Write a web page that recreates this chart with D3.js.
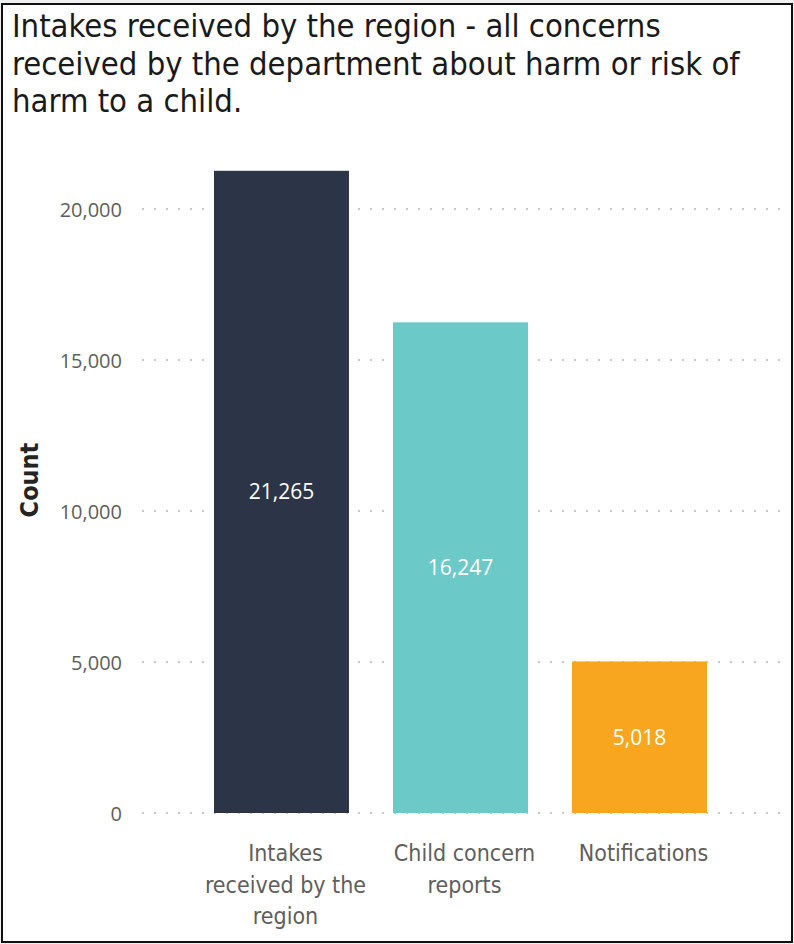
<!DOCTYPE html>
<html>
<head>
<meta charset="utf-8">
<script src="https://cdn.jsdelivr.net/npm/d3@7"></script>
<style>
  body { margin: 0; background: #f0f0f0; }
  svg { display: block; }
</style>
</head>
<body>
<div id="chart"></div>
<script>
// chart data
var categories = ["Intakes received by the region", "Child concern reports", "Notifications"];
var counts = [21265, 16247, 5018];
var barColors = ["#2c3548", "#6bc9c8", "#f8a61f"];
var yTicks = [0, 5000, 10000, 15000, 20000];
var titleLines = ["Intakes received by the region - all concerns",
                  "received by the department about harm or risk of",
                  "harm to a child."];

var W = 794, H = 944;
var condensed = "'DejaVu Sans Condensed', 'Liberation Sans Narrow', sans-serif";

var svg = d3.select("#chart").append("svg")
    .attr("width", W)
    .attr("height", H);

// white card with black frame
svg.append("rect")
    .attr("x", 2).attr("y", 4)
    .attr("width", W - 4).attr("height", H - 6)
    .attr("fill", "white")
    .attr("stroke", "#111")
    .attr("stroke-width", 2);

// title
svg.append("text")
    .attr("font-family", condensed)
    .attr("font-size", 32.5)
    .attr("fill", "#1a1a1a")
    .selectAll("tspan")
    .data(titleLines)
    .join("tspan")
    .attr("x", 12)
    .attr("y", function(d, i) { return 37 + i * 37.5; })
    .text(function(d) { return d; });

// scales
var x = d3.scaleBand()
    .domain(categories)
    .range([160.3, 760.7])
    .paddingInner(0.246)
    .paddingOuter(0.3);

var y = d3.scaleLinear()
    .domain([0, 20000])
    .range([813, 209]);

// dotted gridlines
svg.append("g")
    .selectAll("line")
    .data(yTicks)
    .join("line")
    .attr("x1", 142).attr("x2", 786)
    .attr("y1", function(d) { return y(d); })
    .attr("y2", function(d) { return y(d); })
    .attr("stroke", "#c8c8c8")
    .attr("stroke-width", 2)
    .attr("stroke-dasharray", "2,10");

// y axis labels
var yAxis = svg.append("g")
    .attr("transform", "translate(122,0)")
    .call(d3.axisLeft(y).tickValues(yTicks).tickFormat(d3.format(",")).tickSize(0).tickPadding(0));
yAxis.select(".domain").remove();
yAxis.selectAll("text")
    .attr("font-family", "'Open Sans', sans-serif")
    .attr("font-size", 20)
    .attr("fill", "#605e5c")
    .attr("dy", "0.35em");

// y axis title
svg.append("text")
    .attr("transform", "translate(38,480) rotate(-90)")
    .attr("text-anchor", "middle")
    .attr("font-family", condensed)
    .attr("font-weight", "bold")
    .attr("font-size", 25)
    .attr("fill", "#252423")
    .text("Count");

// bars
svg.append("g")
    .selectAll("rect")
    .data(counts)
    .join("rect")
    .attr("x", function(d, i) { return x(categories[i]); })
    .attr("y", function(d) { return y(d); })
    .attr("width", x.bandwidth())
    .attr("height", function(d) { return y(0) - y(d); })
    .attr("fill", function(d, i) { return barColors[i]; });

// value labels in the middle of each bar
svg.append("g")
    .selectAll("text")
    .data(counts)
    .join("text")
    .attr("x", function(d, i) { return x(categories[i]) + x.bandwidth() / 2; })
    .attr("y", function(d) { return (y(d) + y(0)) / 2; })
    .attr("dy", "0.35em")
    .attr("text-anchor", "middle")
    .attr("font-family", "'Open Sans', sans-serif")
    .attr("font-size", 21)
    .attr("fill", "white")
    .text(function(d) { return d3.format(",")(d); });

// category labels, wrapped (sit a touch right of the bar centre, like the original)
var catLabels = svg.append("g")
    .selectAll("text")
    .data(categories)
    .join("text")
    .attr("text-anchor", "middle")
    .attr("font-family", condensed)
    .attr("font-size", 23)
    .attr("fill", "#605e5c")
    .attr("x", function(d) { return x(d) + x.bandwidth() / 2 + 4; })
    .attr("y", 861);

catLabels.each(function(d) {
    var text = d3.select(this),
        cx = +text.attr("x"),
        words = d.split(" "),
        line = [],
        lineNo = 0,
        tspan = text.append("tspan").attr("x", cx).attr("y", 861);
    words.forEach(function(w) {
        line.push(w);
        tspan.text(line.join(" "));
        if (tspan.node().getComputedTextLength() > 163.5 && line.length > 1) {
            line.pop();
            tspan.text(line.join(" "));
            line = [w];
            lineNo++;
            tspan = text.append("tspan").attr("x", cx).attr("y", 861 + lineNo * 31.5).text(w);
        }
    });
});
</script>
</body>
</html>
